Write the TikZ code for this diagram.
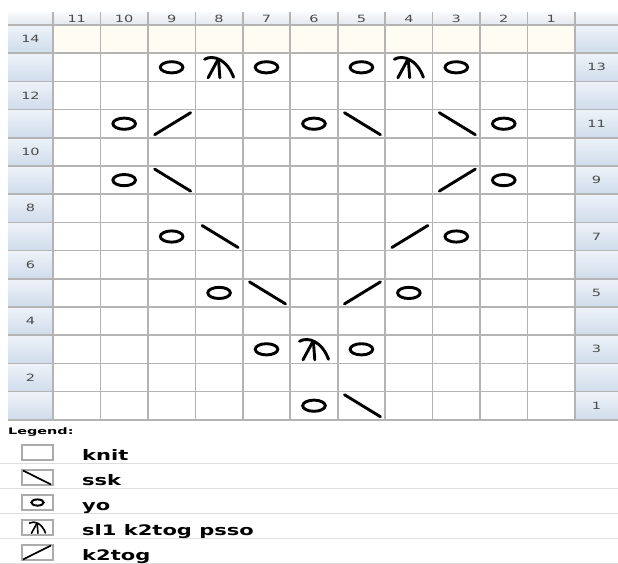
\documentclass[tikz,border=0pt]{standalone}
\usepackage{fontspec}
\newfontfamily\wfont[FakeStretch=1.45]{DejaVu Sans}
\newfontfamily\lfont[FakeStretch=1.6]{DejaVu Sans}
\definecolor{gridc}{HTML}{B4B4B4}
\definecolor{hdrtop}{HTML}{F9FAFC}
\definecolor{hdrbot}{HTML}{E2E8EF}
\definecolor{lbltop}{HTML}{EEF3F9}
\definecolor{lblbot}{HTML}{CFDCEB}
\definecolor{cream}{HTML}{FFFCF4}
\definecolor{numc}{HTML}{4A4A4A}
\definecolor{sepc}{HTML}{DDDDDD}
\definecolor{boxc}{HTML}{ABABAB}
\tikzset{
  gridline/.style={draw=gridc, line width=1.6pt},
  hdrnum/.style={font=\wfont\fontsize{10}{12}\selectfont, text=numc, inner sep=0pt},
  lgdtext/.style={font=\wfont\bfseries\fontsize{14.5}{16}\selectfont, anchor=base west, inner sep=0pt},
  lgdbox/.style={draw=boxc, line width=1.1pt},
  sym/.style={draw=black, line width=2.9pt, line cap=round},
  pics/yosym/.style={code={\draw[sym] (0,0) ellipse [x radius=11.3pt, y radius=5.6pt];}},
  pics/kkdec/.style={code={\draw[sym] (-17,11) -- (19,-11);}},
  pics/sskdec/.style={code={\draw[sym] (-17,-11) -- (19,11);}},
  pics/cdd/.style={code={
    \draw[sym] (-14.5,-8) .. controls (-6,-13) and (8,-8) .. (14.5,10);
    \draw[sym] (-0.5,-7) -- (0.8,10.5);
    \draw[sym] (-1.5,-7) -- (-11,10.5);}},
}
\begin{document}
\begin{tikzpicture}[x=1pt,y=-1pt]
\useasboundingbox (0,0) rectangle (618,563);
\fill[white] (0,0) rectangle (618,563);
% header band
\shade[top color=hdrtop, bottom color=hdrbot] (8,12) rectangle (618,25);
% label columns
\foreach \r in {14,...,1}{
  \pgfmathsetmacro\yt{25+(14-\r)*28.2}
  \shade[top color=lbltop, bottom color=lblbot] (8,\yt) rectangle (53,\yt+28.2);
  \shade[top color=lbltop, bottom color=lblbot] (575,\yt) rectangle (618,\yt+28.2);
}
% highlighted top row
\fill[cream] (53,25) rectangle (575,53.2);
% grid lines
\foreach \i in {0,...,11}{
  \draw[gridline] ({53+\i*47.45},12) -- ({53+\i*47.45},420);
}
\foreach \j in {0,...,14}{
  \draw[gridline] (8,{25+\j*28.2}) -- (618,{25+\j*28.2});
}
% cell centres
\foreach \c in {1,...,11}{
  \foreach \r in {1,...,14}{
    \coordinate (c-\c-\r) at ({53+(11-\c+0.5)*47.45},{25+(14-\r+0.5)*28.2});
  }
}
% header numbers
\foreach \c in {11,...,1}{
  \node[hdrnum] (h\c) at ({53+(11-\c+0.5)*47.45},18.5) {\c};
}
% row numbers
\foreach \r in {14,12,...,2}{
  \node[hdrnum] (l\r) at (30.5,{25+(14-\r+0.5)*28.2}) {\r};
}
\foreach \r in {13,11,...,1}{
  \node[hdrnum] (r\r) at (596.5,{25+(14-\r+0.5)*28.2}) {\r};
}
% row 13
\pic at (c-9-13) {yosym};
\pic at (c-8-13) {cdd};
\pic at (c-7-13) {yosym};
\pic at (c-5-13) {yosym};
\pic at (c-4-13) {cdd};
\pic at (c-3-13) {yosym};
% row 11
\pic at (c-10-11) {yosym};
\pic at (c-9-11) {kkdec};
\pic at (c-6-11) {yosym};
\pic at (c-5-11) {sskdec};
\pic at (c-3-11) {sskdec};
\pic at (c-2-11) {yosym};
% row 9
\pic at (c-10-9) {yosym};
\pic at (c-9-9) {sskdec};
\pic at (c-3-9) {kkdec};
\pic at (c-2-9) {yosym};
% row 7
\pic at (c-9-7) {yosym};
\pic at (c-8-7) {sskdec};
\pic at (c-4-7) {kkdec};
\pic at (c-3-7) {yosym};
% row 5
\pic at (c-8-5) {yosym};
\pic at (c-7-5) {sskdec};
\pic at (c-5-5) {kkdec};
\pic at (c-4-5) {yosym};
% row 3
\pic at (c-7-3) {yosym};
\pic at (c-6-3) {cdd};
\pic at (c-5-3) {yosym};
% row 1
\pic at (c-6-1) {yosym};
\pic at (c-5-1) {sskdec};
% legend
\node[font=\lfont\bfseries\fontsize{9}{10}\selectfont, anchor=west, inner sep=0pt] (lg) at (8,432) {Legend:};
\foreach \k in {0,...,4}{
  \draw[sepc, line width=1pt] (0,{463+\k*25}) -- (618,{463+\k*25});
  \draw[lgdbox] (22,{445+\k*25}) rectangle (53,{460+\k*25});
}
\node[lgdtext] (t1) at (82,460) {knit};
\node[lgdtext] (t2) at (82,485) {ssk};
\node[lgdtext] (t3) at (82,510) {yo};
\node[lgdtext] (t4) at (82,535) {sl1 k2tog psso};
\node[lgdtext] (t5) at (82,560) {k2tog};
\draw[black, line width=1.7pt] (23,470.5) -- (51,484.5);
\pic[scale=0.55, sym/.append style={line width=2pt}] at (37.5,502.5) {yosym};
\pic[scale=0.55, sym/.append style={line width=1.6pt}] at (37.5,527.5) {cdd};
\draw[black, line width=1.7pt] (23,559.5) -- (51,545.5);
\end{tikzpicture}
\end{document}
